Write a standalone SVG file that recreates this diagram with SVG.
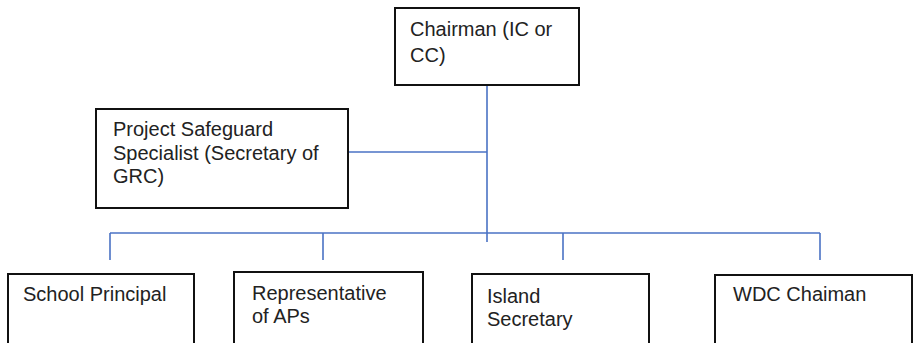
<svg xmlns="http://www.w3.org/2000/svg" width="914" height="343" viewBox="0 0 914 343">
<style>
.box{fill:#fff;stroke:#111;stroke-width:2}
.lbl{font-family:"Liberation Sans",Arial,sans-serif;font-size:20px;fill:#222}
.con{stroke:#4a72c4;stroke-width:1.6;fill:none}
</style>
<rect width="914" height="343" fill="#fff"/>
<g id="connectors">
<line class="con" x1="487" y1="85" x2="487" y2="242"/>
<line class="con" x1="348" y1="152" x2="487" y2="152"/>
<line class="con" x1="110" y1="233" x2="820" y2="233"/>
<line class="con" x1="110" y1="233" x2="110" y2="260"/>
<line class="con" x1="323" y1="233" x2="323" y2="260"/>
<line class="con" x1="563" y1="233" x2="563" y2="260"/>
<line class="con" x1="820" y1="233" x2="820" y2="260"/>
</g>
<g id="chairman">
<rect class="box" x="395" y="8" width="184" height="77"/>
<text class="lbl" x="410" y="36">Chairman (IC or</text>
<text class="lbl" x="410" y="62">CC)</text>
</g>
<g id="pss">
<rect class="box" x="96" y="109" width="252" height="99"/>
<text class="lbl" x="113" y="136">Project Safeguard</text>
<text class="lbl" x="113" y="160">Specialist (Secretary of</text>
<text class="lbl" x="113" y="183">GRC)</text>
</g>
<g id="school-principal">
<rect class="box" x="8" y="274" width="186" height="80"/>
<text class="lbl" x="23" y="301">School Principal</text>
</g>
<g id="representative">
<rect class="box" x="234" y="272" width="189" height="82"/>
<text class="lbl" x="252" y="300">Representative</text>
<text class="lbl" x="252" y="323">of APs</text>
</g>
<g id="island-secretary">
<rect class="box" x="472" y="274" width="177" height="80"/>
<text class="lbl" x="487" y="303">Island</text>
<text class="lbl" x="487" y="326">Secretary</text>
</g>
<g id="wdc-chairman">
<rect class="box" x="715" y="275" width="197" height="80"/>
<text class="lbl" x="733" y="301">WDC Chaiman</text>
</g>
</svg>
